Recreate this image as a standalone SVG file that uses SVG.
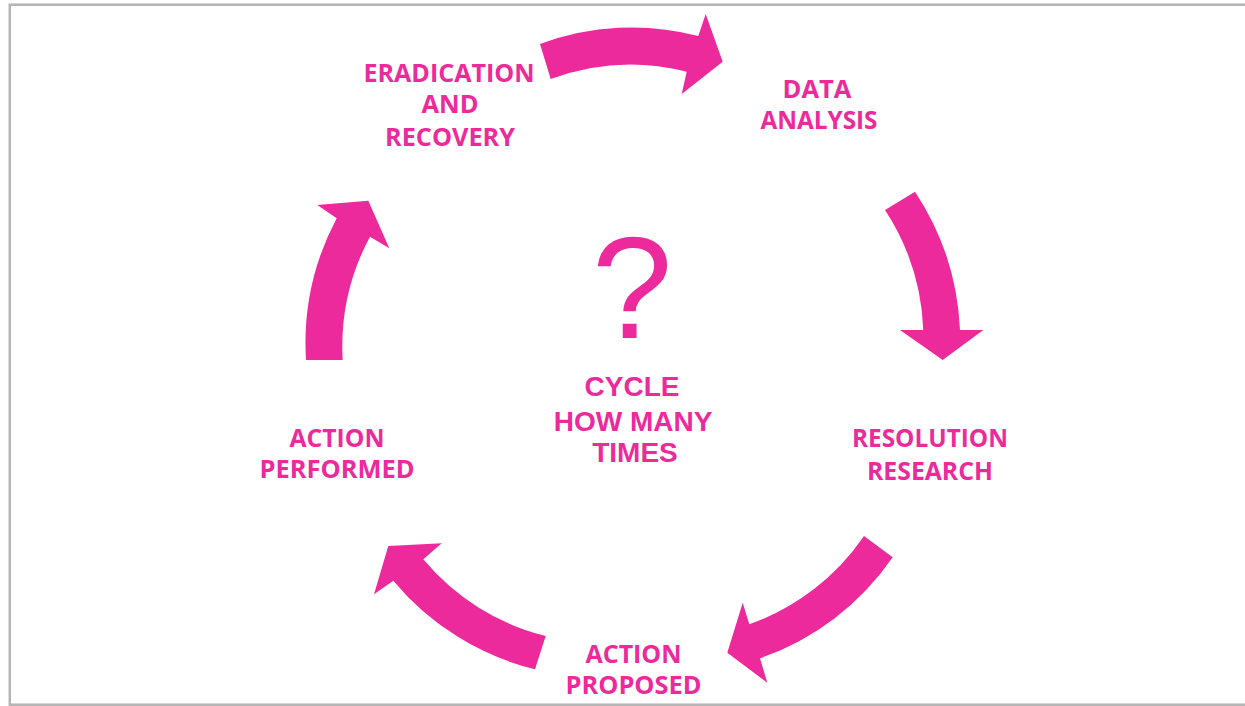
<svg xmlns="http://www.w3.org/2000/svg" width="1245" height="706" viewBox="0 0 1245 706">
  <style>
    .arrow { fill: #EC2A9C; stroke: none; }
    .label { font-family: "Open Sans", "Liberation Sans", sans-serif; font-weight: 700; font-size: 25.5px; fill: #EC2A9C; text-anchor: middle; }
    .center { font-family: "Liberation Sans", Arial, sans-serif; font-weight: 700; font-size: 28px; fill: #EC2A9C; text-anchor: middle; }
    .qmark { font-family: "Liberation Sans", Arial, sans-serif; font-weight: 400; font-size: 145px; fill: #EC2A9C; text-anchor: middle; }
  </style>

  <rect width="1245" height="706" fill="#ffffff"/>
  <!-- slide frame -->
  <rect x="9.8" y="4.7" width="1300" height="700" fill="none" stroke="#b4b4b4" stroke-width="2.5"/>

  <!-- curved block arrows of the cycle -->
  <g id="connectors">
    <path id="arrow-eradication-to-data" class="arrow" d="M540,44 A263,263 0 0 1 698.3,36 L705.7,14 L722.7,61.7 L681.7,94 L686.7,71.7 A228,228 0 0 0 550.7,79 Z"/>
    <path id="arrow-data-to-resolution" class="arrow" d="M915,191.7 A272,272 0 0 1 960,330 L983.3,330 L942.7,360 L900,330 L923.3,330 A235,235 0 0 0 885,210 Z"/>
    <path id="arrow-resolution-to-proposed" class="arrow" d="M892.7,557.3 A267,267 0 0 1 760,658.3 L767.3,682.7 L727.3,652.7 L742.7,602.7 L749.3,624.3 A232,232 0 0 0 864,536 Z"/>
    <path id="arrow-proposed-to-performed" class="arrow" d="M535,669.3 A267,267 0 0 1 393.3,580.7 L374,594.3 L388.3,546 L441.7,543.3 L423.3,559.3 A232,232 0 0 0 545.7,636 Z"/>
    <path id="arrow-performed-to-eradication" class="arrow" d="M306,360 A267,267 0 0 1 336.7,218.3 L317.3,205 L368.3,200.7 L389.3,248.3 L370,236.7 A232,232 0 0 0 342.7,360 Z"/>
  </g>

  <g id="eradication-and-recovery">
    <text class="label" x="449" y="82" textLength="171" lengthAdjust="spacingAndGlyphs">ERADICATION</text>
    <text class="label" x="450" y="113" textLength="57" lengthAdjust="spacingAndGlyphs">AND</text>
    <text class="label" x="450" y="146" textLength="130" lengthAdjust="spacingAndGlyphs">RECOVERY</text>
  </g>

  <g id="data-analysis">
    <text class="label" x="817" y="98" textLength="69" lengthAdjust="spacingAndGlyphs">DATA</text>
    <text class="label" x="819" y="129" textLength="117" lengthAdjust="spacingAndGlyphs">ANALYSIS</text>
  </g>

  <g id="resolution-research">
    <text class="label" x="930" y="447" textLength="156" lengthAdjust="spacingAndGlyphs">RESOLUTION</text>
    <text class="label" x="930" y="480" textLength="126" lengthAdjust="spacingAndGlyphs">RESEARCH</text>
  </g>

  <g id="action-proposed">
    <text class="label" x="633.5" y="663" textLength="96" lengthAdjust="spacingAndGlyphs">ACTION</text>
    <text class="label" x="633.5" y="694" textLength="136" lengthAdjust="spacingAndGlyphs">PROPOSED</text>
  </g>

  <g id="action-performed">
    <text class="label" x="337" y="447" textLength="95" lengthAdjust="spacingAndGlyphs">ACTION</text>
    <text class="label" x="337" y="478" textLength="155" lengthAdjust="spacingAndGlyphs">PERFORMED</text>
  </g>

  <g id="cycle-center">
    <text class="qmark" x="632" y="338">?</text>
    <text class="center" x="632" y="396">CYCLE</text>
    <text class="center" x="633" y="431">HOW MANY</text>
    <text class="center" x="635" y="462">TIMES</text>
  </g>
</svg>
